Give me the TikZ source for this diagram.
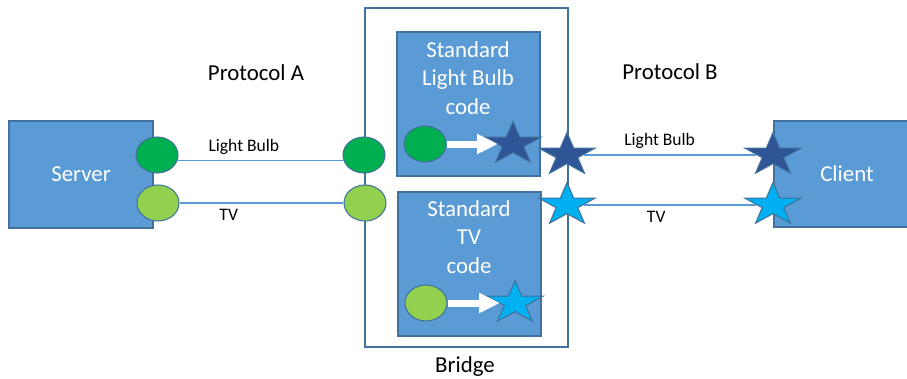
\documentclass[tikz,border=0pt]{standalone}
\usepackage{fontspec}
\setmainfont{Carlito}
\usetikzlibrary{shapes.geometric,arrows.meta}

\definecolor{boxblue}{HTML}{5B9BD5}
\definecolor{edgeblue}{HTML}{41719C}
\definecolor{darkgreen}{HTML}{00B050}
\definecolor{lightgreen}{HTML}{92D050}
\definecolor{darkstar}{HTML}{2F5597}
\definecolor{lightstar}{HTML}{00B0F0}

\begin{document}
\begin{tikzpicture} [
            x=0.02cm, y=-0.02cm,
            box/.style = {draw=edgeblue, fill=boxblue, line width=0.6pt, inner sep=0pt},
            bigtext/.style = {font=\fontsize{13}{16.2}\selectfont},
            smalltext/.style = {font=\fontsize{10}{12}\selectfont},
            codetext/.style = {bigtext, text=white, align=center},
            dot/.style = {draw=edgeblue, ellipse, line width=0.6pt, inner sep=0pt,
                          minimum width=0.84cm, minimum height=0.72cm},
            starnode/.style = {draw=edgeblue, star, star points=5, star point ratio=2.618,
                               line width=0.6pt, inner sep=0pt, minimum size=0.9cm, xscale=1.32},
            wire/.style = {draw=boxblue, line width=0.7pt},
            pass/.style = {white, line width=0.14cm, shorten >=0.3cm,
                           -{Triangle[length=0.42cm, width=0.38cm]}},
        ]
            \useasboundingbox (0,0) rectangle (907,379);

            % outer boxes
            \node[box, bigtext, text=white, minimum width=2.88cm, minimum height=2.14cm] (server) at (81,174.5) {Server};
            \node[box, bigtext, text=white, minimum width=2.92cm, minimum height=2.12cm] (client) at (847,174) {Client};
            \node[draw=edgeblue, line width=0.7pt, minimum width=4.06cm, minimum height=6.78cm] (bridge) at (466.5,177.5) {};

            % code boxes inside the bridge
            \node[box, minimum width=2.86cm, minimum height=2.88cm] (lbcode) at (468.5,104) {};
            \node[box, minimum width=2.86cm, minimum height=2.88cm] (tvcode) at (469.5,264) {};
            \node[codetext] (lbtext) at (468,78) {Standard\\Light Bulb\\code};
            \node[codetext] (tvtext) at (469,237) {Standard\\TV\\code};

            \node[bigtext] (protA) at (256,73) {Protocol A};
            \node[bigtext] (protB) at (670,72) {Protocol B};
            \node[bigtext] (bridgelbl) at (465,367) {Bridge};

            % protocol A side
            \node[dot, fill=darkgreen]  (srvlb) at (157,155) {};
            \node[dot, fill=lightgreen] (srvtv) at (158,203) {};
            \node[dot, fill=darkgreen]  (brlb)  at (364,155) {};
            \node[dot, fill=lightgreen] (brtv)  at (365,203) {};
            \node[dot, fill=darkgreen]  (lbin)  at (425,144) {};
            \node[dot, fill=lightgreen] (tvin)  at (426,303) {};

            % protocol B side
            \node[starnode, fill=darkstar]  (lbout)  at (513,144) {};
            \node[starnode, fill=lightstar] (tvout)  at (515,303) {};
            \node[starnode, fill=darkstar]  (brlbB)  at (567,155) {};
            \node[starnode, fill=lightstar] (brtvB)  at (567,205) {};
            \node[starnode, fill=darkstar]  (cltlb)  at (773,155) {};
            \node[starnode, fill=lightstar] (clttv)  at (773,205) {};

            \draw[wire] (srvlb.-16) -- node[smalltext, pos=0.4, above] {Light Bulb} (brlb.196);
            \draw[wire] (srvtv) -- node[smalltext, pos=0.3, below] {TV} (brtv);
            \draw[wire] (brlbB) -- node[smalltext, pos=0.44, above] {Light Bulb} (cltlb);
            \draw[wire] (brtvB) -- node[smalltext, pos=0.42, below] {TV} (clttv);

            \draw[pass] (lbin) -- (lbout.center);
            \draw[pass] (tvin) -- (tvout.center);
        \end{tikzpicture}
\end{document}
